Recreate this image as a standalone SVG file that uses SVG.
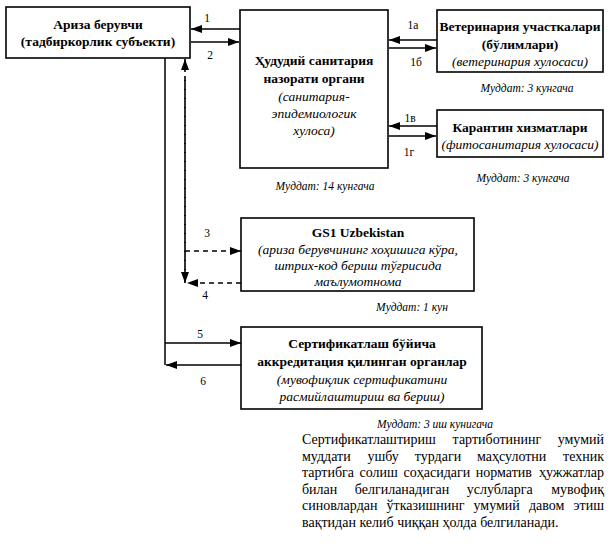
<svg xmlns="http://www.w3.org/2000/svg" width="612" height="553" viewBox="0 0 612 553" font-family="'Liberation Serif', 'Tinos', 'DejaVu Serif', serif">
<style>
.box{fill:#fff;stroke:#000;stroke-width:1.6}
.t{fill:#000;text-anchor:middle}
.b{font-weight:bold;font-size:13.5px}
.i{font-style:italic;font-size:13.5px}
.m{font-style:italic;font-size:11.5px}
.n{font-size:11.5px}
.p{font-size:14px;fill:#000}
.c{stroke:#000;stroke-width:1.5;fill:none}
.d{stroke:#000;stroke-width:1.6;fill:none;stroke-dasharray:5 4}
</style>
<defs>
<marker id="ah" markerWidth="11" markerHeight="8" refX="11" refY="4" orient="auto" markerUnits="userSpaceOnUse">
<path d="M0,0 L11,4 L0,8 Z" fill="#000"/>
</marker>
</defs>
<rect width="612" height="553" fill="#fff"/>

<g id="connectors">
<line class="c" x1="240" y1="29" x2="191" y2="29" marker-end="url(#ah)"/>
<line class="c" x1="191" y1="42" x2="239" y2="42" marker-end="url(#ah)"/>
<line class="c" x1="437" y1="40" x2="389" y2="40" marker-end="url(#ah)"/>
<line class="c" x1="389" y1="48" x2="436" y2="48" marker-end="url(#ah)"/>
<line class="c" x1="437" y1="126" x2="389" y2="126" marker-end="url(#ah)"/>
<line class="c" x1="389" y1="136" x2="436" y2="136" marker-end="url(#ah)"/>
<polyline class="c" points="165,58 165,365"/>
<line class="c" x1="165" y1="343" x2="241" y2="343" marker-end="url(#ah)"/>
<line class="c" x1="242" y1="365" x2="166" y2="365" marker-end="url(#ah)"/>
<line class="d" x1="185" y1="270" x2="185" y2="59" marker-end="url(#ah)"/>
<line class="d" x1="185" y1="80" x2="185" y2="283" marker-end="url(#ah)"/>
<line class="d" x1="185" y1="251" x2="241" y2="251" marker-end="url(#ah)"/>
<line class="d" x1="241" y1="283" x2="187" y2="283" marker-end="url(#ah)"/>
<text class="t n" x="207" y="22">1</text>
<text class="t n" x="210" y="59">2</text>
<text class="t n" x="413" y="29">1а</text>
<text class="t n" x="416" y="66">1б</text>
<text class="t n" x="410" y="122">1в</text>
<text class="t n" x="409" y="156">1г</text>
<text class="t n" x="207" y="237">3</text>
<text class="t n" x="205" y="299">4</text>
<text class="t n" x="200" y="338">5</text>
<text class="t n" x="203" y="385">6</text>
</g>

<g id="applicant">
<rect class="box" x="6" y="7" width="184" height="51"/>
<text class="t b" x="98" y="28.5">Ариза берувчи</text>
<text class="t b" x="98" y="45.5">(тадбиркорлик субъекти)</text>
</g>

<g id="sanitary">
<rect class="box" x="240" y="10" width="148" height="158"/>
<text class="t b" x="314" y="64.5">Ҳудудий санитария</text>
<text class="t b" x="314" y="82.5">назорати органи</text>
<text class="t i" x="314" y="100.5">(санитария-</text>
<text class="t i" x="314" y="118">эпидемиологик</text>
<text class="t i" x="314" y="135">хулоса)</text>
<text class="t m" x="325" y="190">Муддат: 14 кунгача</text>
</g>

<g id="veterinary">
<rect class="box" x="437" y="10" width="166" height="62"/>
<text class="t b" x="520" y="30.5">Ветеринария участкалари</text>
<text class="t b" x="520" y="49">(бўлимлари)</text>
<text class="t i" x="520" y="66">(ветеринария хулосаси)</text>
<text class="t m" x="527" y="92">Муддат: 3 кунгача</text>
</g>

<g id="quarantine">
<rect class="box" x="437" y="110" width="166" height="47"/>
<text class="t b" x="520" y="131.5">Карантин хизматлари</text>
<text class="t i" x="520" y="148.5">(фитосанитария хулосаси)</text>
<text class="t m" x="523" y="182">Муддат: 3 кунгача</text>
</g>

<g id="gs1">
<rect class="box" x="241" y="218" width="233" height="73"/>
<text class="t b" x="358" y="236.5">GS1 Uzbekistan</text>
<text class="t i" x="358" y="253.5">(ариза берувчининг хоҳишига кўра,</text>
<text class="t i" x="358" y="270">штрих-код бериш тўғрисида</text>
<text class="t i" x="358" y="286">маълумотнома</text>
<text class="t m" x="412" y="311">Муддат:  1 кун</text>
</g>

<g id="certification">
<rect class="box" x="241" y="327" width="241" height="82"/>
<text class="t b" x="362" y="347.5">Сертификатлаш бўйича</text>
<text class="t b" x="362" y="365.5">аккредитация қилинган органлар</text>
<text class="t i" x="362" y="383.5">(мувофиқлик сертификатини</text>
<text class="t i" x="362" y="400.5">расмийлаштириш ва бериш)</text>
<text class="t m" x="435" y="428">Муддат: 3 иш кунигача</text>
</g>

<g id="note">
<text class="p" y="444"><tspan x="302">Сертификатлаштириш</tspan><tspan x="452.6">тартиботининг</tspan><tspan x="604" text-anchor="end">умумий</tspan></text>
<text class="p" y="460.6"><tspan x="302">муддати</tspan><tspan x="367.4">ушбу</tspan><tspan x="414.8">турдаги</tspan><tspan x="477">маҳсулотни</tspan><tspan x="604" text-anchor="end">техник</tspan></text>
<text class="p" y="477.2"><tspan x="302">тартибга</tspan><tspan x="359.5">солиш</tspan><tspan x="403.5">соҳасидаги</tspan><tspan x="475.8">норматив</tspan><tspan x="604" text-anchor="end">ҳужжатлар</tspan></text>
<text class="p" y="493.8"><tspan x="302">билан</tspan><tspan x="354.8">белгиланадиган</tspan><tspan x="466.8">услубларга</tspan><tspan x="604" text-anchor="end">мувофиқ</tspan></text>
<text class="p" y="510.4"><tspan x="302">синовлардан</tspan><tspan x="386.6">ўтказишнинг</tspan><tspan x="473.5">умумий</tspan><tspan x="529">давом</tspan><tspan x="604" text-anchor="end">этиш</tspan></text>
<text class="p" x="302" y="527">вақтидан келиб чиққан ҳолда белгиланади.</text>
</g>
</svg>
